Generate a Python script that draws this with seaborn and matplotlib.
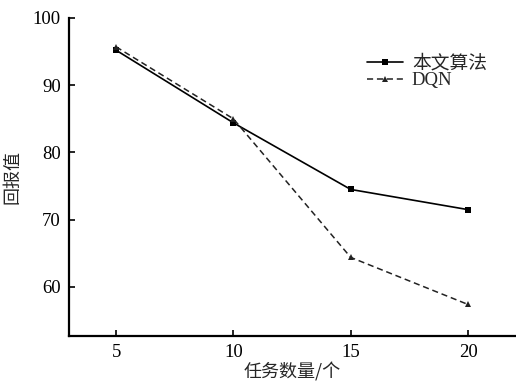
import matplotlib
matplotlib.use("Agg")
import matplotlib.pyplot as plt
import seaborn as sns
import pandas as pd

tasks = [5, 10, 15, 20]
ours = [95.2, 84.4, 74.5, 71.5]
dqn = [95.7, 85.0, 64.4, 57.4]
series_names = ["本文算法", "DQN"]
x_ticks = [5, 10, 15, 20]
y_ticks = [60, 70, 80, 90, 100]

sns.set_theme(style="ticks")
plt.rcParams['font.family'] = ['Liberation Serif', 'Noto Sans CJK SC']
plt.rcParams['axes.unicode_minus'] = False

fig = plt.figure(figsize=(5.16, 3.89), dpi=100)
ax = fig.add_axes([0.134, 0.136, 0.864, 0.818])

df1 = pd.DataFrame({"x": tasks, "y": ours})
df2 = pd.DataFrame({"x": tasks, "y": dqn})
sns.lineplot(data=df1, x="x", y="y", ax=ax, color="black", linewidth=1.2,
             marker="s", markersize=4.5, markeredgewidth=0, label=series_names[0])
sns.lineplot(data=df2, x="x", y="y", ax=ax, color="#222222", linewidth=1.1,
             linestyle=(0, (4, 2.5)), marker="^", markersize=5, markeredgewidth=0,
             label=series_names[1])

ax.set_xlim(3, 22)
ax.set_ylim(52.7, 100)
ax.set_xticks(x_ticks)
ax.set_yticks(y_ticks)
ax.tick_params(direction="in", length=4, width=1.2, labelsize=13.5, colors="black", pad=6)
for s in ["left", "bottom"]:
    ax.spines[s].set_linewidth(1.6)
    ax.spines[s].set_color("black")
sns.despine(ax=ax)

ax.set_xlabel("任务数量/个", fontsize=13, family=['Noto Sans CJK SC'], labelpad=1)
ax.set_ylabel("回报值", fontsize=13, family=['Noto Sans CJK SC'], labelpad=8)

leg = ax.legend(loc="upper left", bbox_to_anchor=(0.63, 0.938), frameon=False,
                handlelength=1.9, handletextpad=0.5, labelspacing=0.0,
                prop={'family': ['Liberation Serif', 'Noto Sans CJK SC'], 'size': 13.5})

fig.savefig("out.png", dpi=100)
